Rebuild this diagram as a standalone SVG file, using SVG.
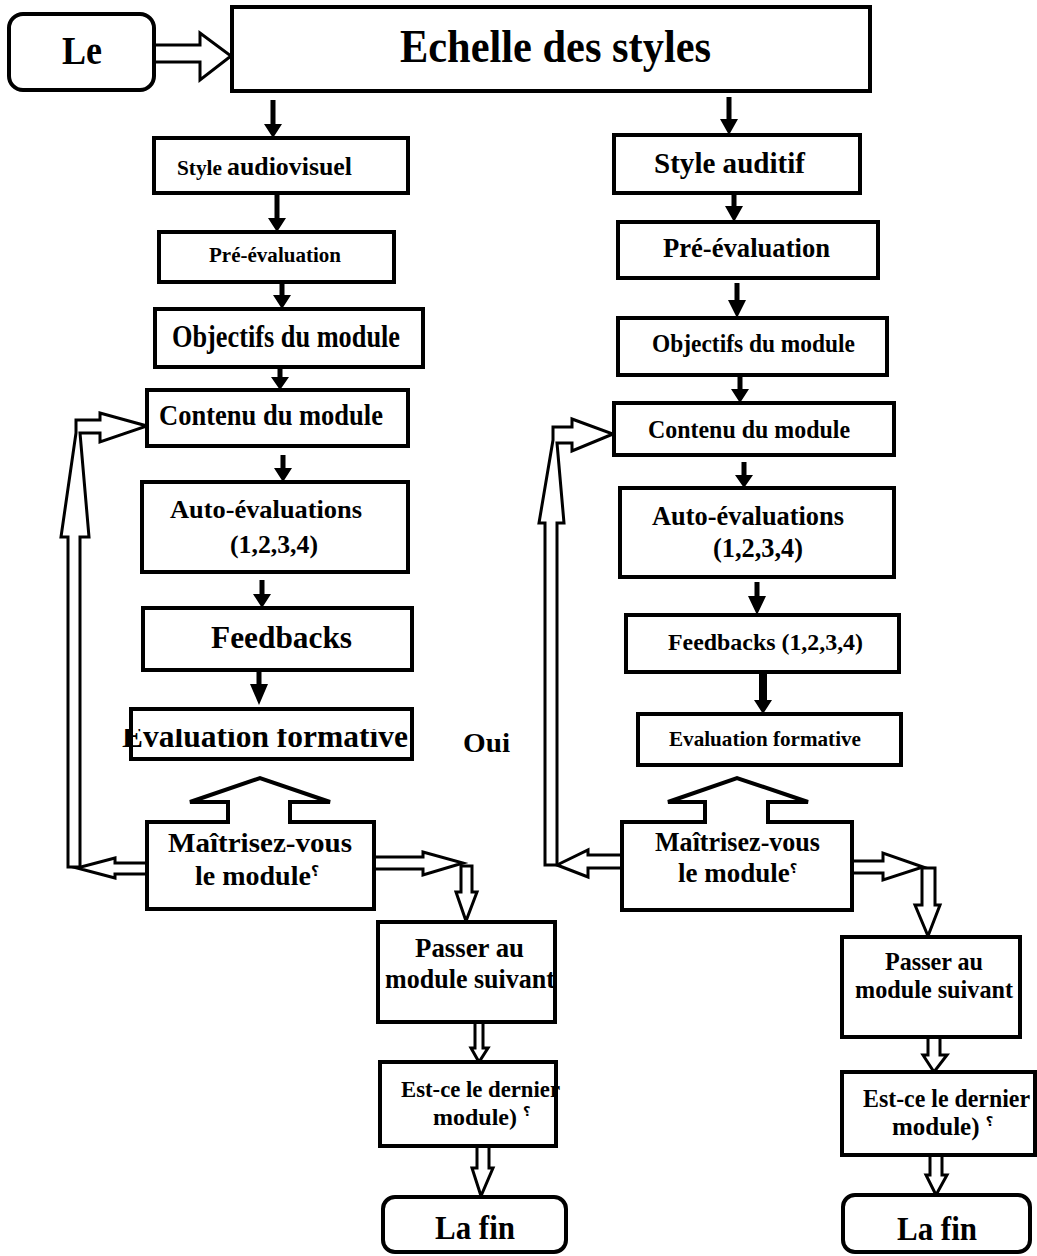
<svg xmlns="http://www.w3.org/2000/svg" width="1037" height="1256" viewBox="0 0 1037 1256">
<style>
.b{fill:#fff;stroke:#000;stroke-width:4}
.h{fill:#fff;stroke:#000;stroke-width:3;stroke-linejoin:miter}
.f{fill:#000;stroke:none}
text{font-family:"Liberation Serif","Times New Roman",serif;font-weight:bold;fill:#000}
.q{font-family:"DejaVu Sans","Noto Sans",sans-serif}
</style>
<defs>
<clipPath id="clipEval"><rect x="100" y="729" width="330" height="40"/></clipPath>
</defs>
<rect width="1037" height="1256" fill="#fff"/>

<g id="connectors">
<polygon class="h" points="154,45 200,45 200,33 231,56 200,80 200,62 154,62"/>
<polygon class="f" points="270.5,100 275.5,100 275.5,124 282,124 273,138 264,124 270.5,124"/>
<polygon class="f" points="274.5,193 279.5,193 279.5,218 286,218 277,232 268,218 274.5,218"/>
<polygon class="f" points="279.5,282 284.5,282 284.5,295 291,295 282,309 273,295 279.5,295"/>
<polygon class="f" points="277.5,367 282.5,367 282.5,377 289,377 280,390 271,377 277.5,377"/>
<polygon class="f" points="280.5,455 285.5,455 285.5,468 292,468 283,482 274,468 280.5,468"/>
<polygon class="f" points="259.5,580 264.5,580 264.5,594 271,594 262,608 253,594 259.5,594"/>
<polygon class="f" points="256.5,670 261.5,670 261.5,684 268,684 259,705 250,684 256.5,684"/>
<polygon class="f" points="726.5,97 731.5,97 731.5,119 738,119 729,135 720,119 726.5,119"/>
<polygon class="f" points="731.5,193 736.5,193 736.5,206 743,206 734,222 725,206 731.5,206"/>
<polygon class="f" points="734.5,283 739.5,283 739.5,300 746,300 737,318 728,300 734.5,300"/>
<polygon class="f" points="737.5,375 742.5,375 742.5,389 749,389 740,403 731,389 737.5,389"/>
<polygon class="f" points="741.5,462 746.5,462 746.5,475 753,475 744,488 735,475 741.5,475"/>
<polygon class="f" points="754.5,582 759.5,582 759.5,596 766,596 757,615 748,596 754.5,596"/>
<polygon class="f" points="759,672 767,672 767,700 772,700 763,714 754,700 759,700"/>
<polygon class="h" points="68,867 68,537 61,537 76,433 76,420 100,420 100,413 147,426 100,442 100,433 80,433 89,537 80,537 80,867"/>
<polygon class="h" points="147,863 115,863 115,858 77,868 115,878 115,874 147,874"/>
<polygon class="h" points="545,865 545,523 539,523 553,440 553,427 572,427 572,419 613,434 572,451 572,443 557,443 564,523 557,523 557,865"/>
<polygon class="h" points="622,855 588,855 588,850 557,865 588,877 588,868 622,868"/>
<polygon class="h" points="374,857 423,857 423,852 463,863 423,875 423,869 374,869"/>
<polygon class="h" points="461,866 461,892 456,892 466,921 477,892 472,892 472,866"/>
<polygon class="h" points="852,861 883,861 883,853 923,867 883,880 883,873 852,873"/>
<polygon class="h" points="922,868 922,905 915,905 928,936 940,905 935,905 935,868"/>
<polygon class="h" points="475,1022 475,1048 471,1048 479,1062 488,1048 483,1048 483,1022"/>
<polygon class="h" points="477,1146 477,1168 472,1168 481,1196 493,1168 489,1168 489,1146"/>
<polygon class="h" points="928,1037 928,1055 923,1055 934,1072 947,1055 940,1055 940,1037"/>
<polygon class="h" points="930,1155 930,1175 926,1175 936,1195 947,1175 942,1175 942,1155"/>
</g>

<g id="n-le"><rect class="b" x="9" y="14" width="145" height="76" rx="14"/><text x="62" y="64" font-size="40" textLength="40" lengthAdjust="spacingAndGlyphs">Le</text></g>
<g id="n-echelle"><rect class="b" x="232" y="7" width="638" height="84"/><text x="400" y="62" font-size="47" textLength="311" lengthAdjust="spacingAndGlyphs">Echelle des styles</text></g>

<g id="n-style-av"><rect class="b" x="154" y="138" width="254" height="55"/><text x="177" y="175" font-size="21" textLength="45" lengthAdjust="spacingAndGlyphs">Style</text><text x="227" y="175" font-size="26" textLength="125" lengthAdjust="spacingAndGlyphs">audiovisuel</text></g>
<g id="n-pre-l"><rect class="b" x="159" y="232" width="235" height="50"/><text x="209" y="262" font-size="21" textLength="132" lengthAdjust="spacingAndGlyphs">Pré-évaluation</text></g>
<g id="n-obj-l"><rect class="b" x="155" y="309" width="268" height="58"/><text x="172" y="347" font-size="31" textLength="228" lengthAdjust="spacingAndGlyphs">Objectifs du module</text></g>
<g id="n-cont-l"><rect class="b" x="147" y="390" width="261" height="56"/><text x="159" y="425" font-size="29" textLength="224" lengthAdjust="spacingAndGlyphs">Contenu du module</text></g>
<g id="n-auto-l"><rect class="b" x="142" y="482" width="266" height="90"/><text x="170" y="518" font-size="26" textLength="192" lengthAdjust="spacingAndGlyphs">Auto-évaluations</text><text x="230" y="553" font-size="26" textLength="88" lengthAdjust="spacingAndGlyphs">(1,2,3,4)</text></g>
<g id="n-feed-l"><rect class="b" x="143" y="608" width="269" height="62"/><text x="211" y="648" font-size="32" textLength="141" lengthAdjust="spacingAndGlyphs">Feedbacks</text></g>
<g id="n-eval-l"><rect class="b" x="131" y="709" width="281" height="50"/><text x="122" y="747" font-size="31" textLength="286" lengthAdjust="spacingAndGlyphs" clip-path="url(#clipEval)">Evaluation formative</text></g>
<g id="n-oui"><text x="463" y="752" font-size="28" textLength="47" lengthAdjust="spacingAndGlyphs">Oui</text></g>
<g id="n-mait-l"><polygon class="b" points="147,909 147,822 228,822 228,802 190,802 260,778 330,802 290,802 290,822 374,822 374,909"/><text x="168" y="852" font-size="28" textLength="184" lengthAdjust="spacingAndGlyphs">Maîtrisez-vous</text><text x="195" y="885" font-size="28">le module<tspan class="q" font-size="14" dy="-9">؟</tspan></text></g>
<g id="n-pass-l"><rect class="b" x="378" y="922" width="177" height="100"/><text x="415" y="957" font-size="27" textLength="109" lengthAdjust="spacingAndGlyphs">Passer au</text><text x="385" y="988" font-size="27" textLength="170" lengthAdjust="spacingAndGlyphs">module suivant</text></g>
<g id="n-est-l"><rect class="b" x="380" y="1062" width="176" height="84"/><text x="401" y="1097" font-size="24" textLength="159" lengthAdjust="spacingAndGlyphs">Est-ce le dernier</text><text x="433" y="1125" font-size="24">module) <tspan class="q" font-size="13" dy="-9">؟</tspan></text></g>
<g id="n-fin-l"><rect class="b" x="383" y="1197" width="183" height="55" rx="12"/><text x="435" y="1239" font-size="33" textLength="80" lengthAdjust="spacingAndGlyphs">La fin</text></g>

<g id="n-style-au"><rect class="b" x="614" y="135" width="246" height="58"/><text x="654" y="173" font-size="30" textLength="151" lengthAdjust="spacingAndGlyphs">Style auditif</text></g>
<g id="n-pre-r"><rect class="b" x="618" y="222" width="260" height="56"/><text x="663" y="257" font-size="27" textLength="167" lengthAdjust="spacingAndGlyphs">Pré-évaluation</text></g>
<g id="n-obj-r"><rect class="b" x="618" y="318" width="269" height="57"/><text x="652" y="352" font-size="25" textLength="203" lengthAdjust="spacingAndGlyphs">Objectifs du module</text></g>
<g id="n-cont-r"><rect class="b" x="614" y="403" width="280" height="52"/><text x="648" y="438" font-size="25" textLength="202" lengthAdjust="spacingAndGlyphs">Contenu du module</text></g>
<g id="n-auto-r"><rect class="b" x="620" y="488" width="274" height="89"/><text x="652" y="525" font-size="27" textLength="192" lengthAdjust="spacingAndGlyphs">Auto-évaluations</text><text x="713" y="557" font-size="27" textLength="90" lengthAdjust="spacingAndGlyphs">(1,2,3,4)</text></g>
<g id="n-feed-r"><rect class="b" x="626" y="615" width="273" height="57"/><text x="668" y="650" font-size="24" textLength="195" lengthAdjust="spacingAndGlyphs">Feedbacks (1,2,3,4)</text></g>
<g id="n-eval-r"><rect class="b" x="638" y="714" width="263" height="51"/><text x="669" y="746" font-size="22" textLength="192" lengthAdjust="spacingAndGlyphs">Evaluation formative</text></g>
<g id="n-mait-r"><polygon class="b" points="622,910 622,822 705,822 705,802 668,802 737,778 808,802 768,802 768,822 852,822 852,910"/><text x="655" y="851" font-size="27" textLength="165" lengthAdjust="spacingAndGlyphs">Maîtrisez-vous</text><text x="678" y="882" font-size="27">le module<tspan class="q" font-size="13" dy="-9">؟</tspan></text></g>
<g id="n-pass-r"><rect class="b" x="842" y="937" width="178" height="100"/><text x="885" y="970" font-size="25" textLength="98" lengthAdjust="spacingAndGlyphs">Passer au</text><text x="855" y="998" font-size="25" textLength="158" lengthAdjust="spacingAndGlyphs">module suivant</text></g>
<g id="n-est-r"><rect class="b" x="842" y="1072" width="193" height="83"/><text x="863" y="1107" font-size="25" textLength="167" lengthAdjust="spacingAndGlyphs">Est-ce le dernier</text><text x="892" y="1135" font-size="25">module) <tspan class="q" font-size="13" dy="-9">؟</tspan></text></g>
<g id="n-fin-r"><rect class="b" x="843" y="1195" width="187" height="57" rx="12"/><text x="897" y="1240" font-size="33" textLength="80" lengthAdjust="spacingAndGlyphs">La fin</text></g>
</svg>
